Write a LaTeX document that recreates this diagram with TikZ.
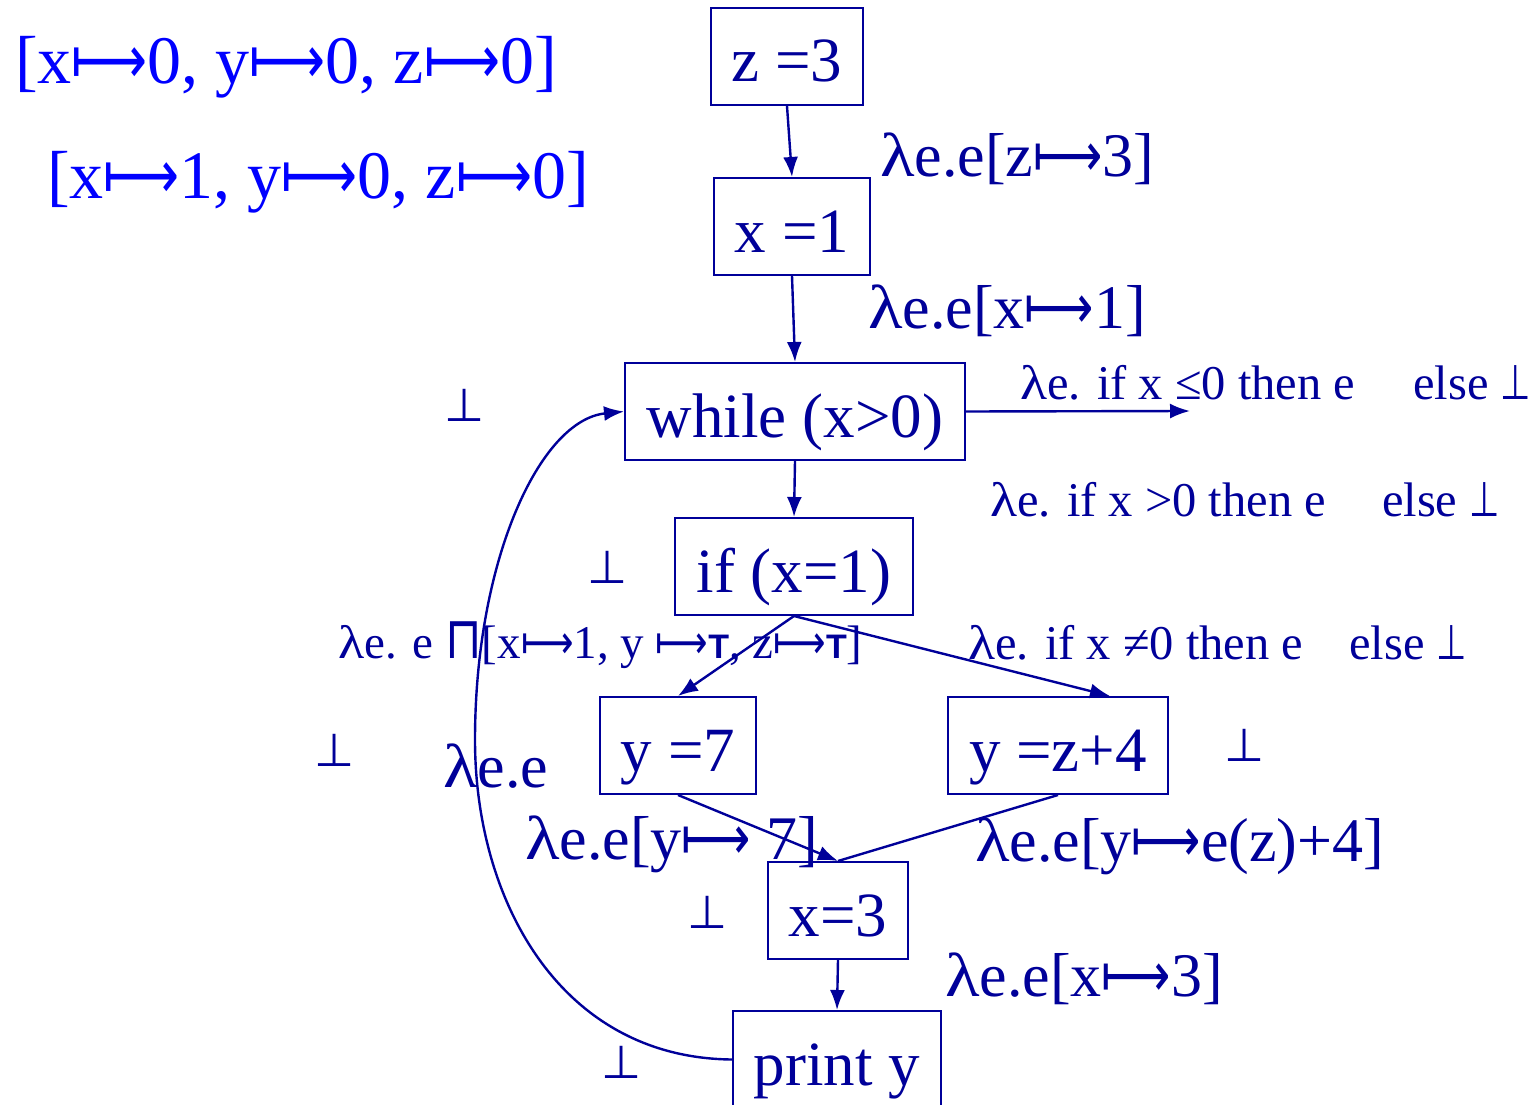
\documentclass[tikz,border=0pt]{standalone}
\usepackage{graphicx}
\usepackage{fontspec}
\setmainfont{Liberation Serif}
\setsansfont{Liberation Sans}
\newfontfamily\dv{DejaVu Sans}
\usetikzlibrary{arrows.meta}
\definecolor{db}{RGB}{0,0,153}
\definecolor{bb}{RGB}{0,0,255}
\newcommand{\mto}{{\dv\scalebox{0.78}[1]{⟼}}}
\newcommand{\bt}{{\dv ⊥}}
\newcommand{\sbt}{{\dv\scalebox{0.72}[1]{⊥}}}
\newcommand{\lam}{\scalebox{1.15}[1]{λ}}
\newcommand{\meet}{{\dv\scalebox{1}[1.25]{⊓}}}
\newcommand{\Tp}{{\sffamily\bfseries\fontsize{34}{34}\selectfont T}}
\newcommand{\fs}[1]{\fontsize{#1}{#1}\selectfont}
\begin{document}
\begin{tikzpicture}[x=1pt,y=-1pt,
  box/.style={draw=db, text=db, rectangle, inner sep=0pt, line width=2pt, font=\fs{63}, text height=51pt, text depth=0pt},
  lab/.style={anchor=west, inner sep=0pt, text=db},
  botl/.style={inner sep=0pt, text=db, font=\fs{46}},
  arr/.style={draw=db, line width=2.4pt, -{Latex[length=20pt,width=15pt]}},
  ln/.style={draw=db, line width=2.4pt}]
\useasboundingbox (0,0) rectangle (1535,1105);
% boxes
\node[box, minimum width=152pt, minimum height=97pt] (z3) at (787,56.5) {z =3};
\node[box, minimum width=156pt, minimum height=97pt] (x1) at (792,226.5) {x =1};
\node[box, minimum width=340pt, minimum height=97pt] (wh) at (795,411.5) {while (x>0)};
\node[box, minimum width=238pt, minimum height=97pt] (if) at (794,566.5) {if (x=1)};
\node[box, minimum width=156pt, minimum height=97pt] (y7) at (678,745.5) {y =7};
\node[box, minimum width=220pt, minimum height=97pt] (yz) at (1058,745.5) {y =z+4};
\node[box, minimum width=140pt, minimum height=97pt] (x3) at (838,910.5) {x=3};
\node[box, minimum width=208pt, minimum height=97pt] (pr) at (837,1059.5) {print y};
\coordinate (exit) at (1190,411);
% edges
\draw[arr] (z3.south) -- (x1.north);
\draw[arr] (x1.south) -- (wh.north);
\draw[arr] (wh.east) -- (exit);
\draw[arr] (wh.south) -- (if.north);
\draw[arr] (if.south) -- (y7.north);
\draw[arr] (if.south) -- ([xshift=52pt]yz.north);
\draw[arr] (y7.south) -- (x3.north);
\draw[ln] (yz.south) -- (x3.north);
\draw[arr] (x3.south) -- (pr.north);
\draw[arr] (pr.west) .. controls (560,1058) and (475,900) .. (475,740)
   .. controls (475,560) and (540,420) .. (wh.west);
% labels
\node[lab, text=bb, font=\fs{68}] (s0) at (15,67) {[x\mto0, y\mto0, z\mto0]};
\node[lab, text=bb, font=\fs{68}] (s1) at (47,182) {[x\mto1, y\mto0, z\mto0]};
\node[lab, font=\fs{62}] (lz) at (880,159) {\lam e.e[z\mto3]};
\node[lab, font=\fs{62}] (lx1) at (868,311) {\lam e.e[x\mto1]};
\node[botl] (b1) at (465,405) {\bt};
\node[lab, font=\fs{48.5}] (lle) at (1020,383) {\lam e. if x ≤0 then e\hspace{58pt}else \sbt};
\node[lab, font=\fs{48.5}] (lgt) at (990,500) {\lam e. if x >0 then e\hspace{56pt}else \sbt};
\node[botl] (b2) at (608,567) {\bt};
\node[lab, font=\fs{47}] (lm) at (338,645) {\lam e. e \meet[x\mto1, y \mto\Tp, z\mto\Tp]};
\node[lab, font=\fs{48.5}] (lne) at (968,643) {\lam e. if x ≠0 then e\hspace{46pt}else \sbt};
\node[botl] (b3) at (335,750) {\bt};
\node[lab, font=\fs{62}] (lee) at (443,766) {\lam e.e};
\node[botl] (b4) at (1245,745) {\bt};
\node[lab, font=\fs{62}] (ly7) at (525,844) {\lam e.e[y\mto\ 7]};
\node[lab, font=\fs{62}] (lyz) at (975,846) {\lam e.e[y\mto e(z)+4]};
\node[botl] (b5) at (708,912) {\bt};
\node[lab, font=\fs{62}] (lx3) at (945,979) {\lam e.e[x\mto3]};
\node[botl] (b6) at (622,1062) {\bt};
\end{tikzpicture}
\end{document}
